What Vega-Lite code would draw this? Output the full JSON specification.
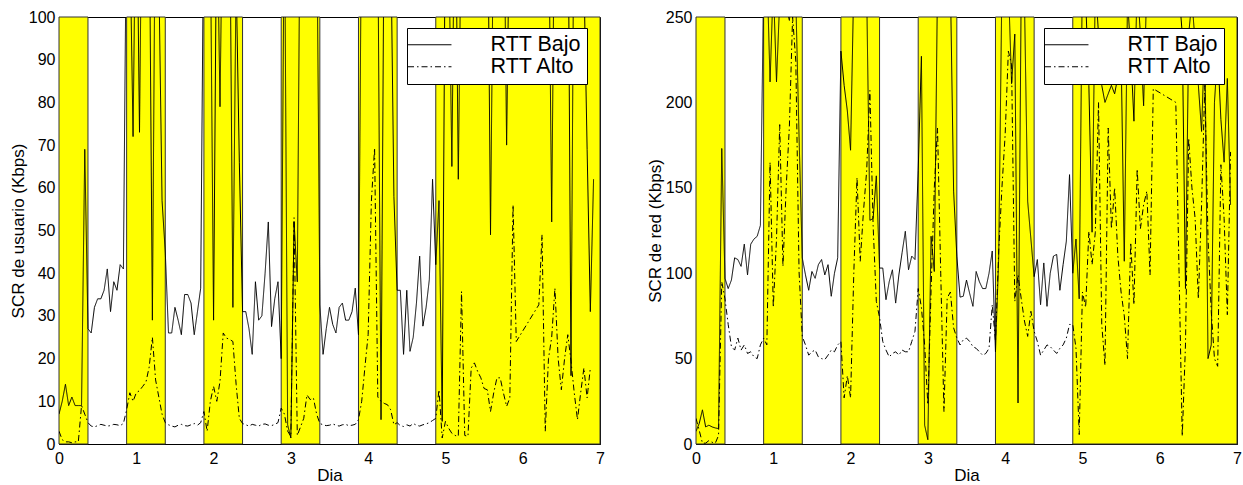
{
 "$schema": "https://vega.github.io/schema/vega-lite/v6.json",
 "padding": {"left": 8, "top": 8, "right": 2, "bottom": 2},
 "autosize": {"type": "pad"},
 "background": "white",
 "spacing": 40,
 "datasets": {
  "bands": [{"s":0,"e":9},{"s":21,"e":33},{"s":45,"e":57},{"s":69,"e":81},{"s":93,"e":105},{"s":117,"e":168}],
  "usuario": [
{"h":0,"b":7,"a":3},{"h":1,"b":10,"a":1},{"h":2,"b":14,"a":0.5},{"h":3,"b":9,"a":0.5},{"h":4,"b":11,"a":0.3},{"h":5,"b":9,"a":0.5},{"h":6,"b":9,"a":0.5},{"h":7,"b":9,"a":9},{"h":8,"b":69,"a":7},{"h":9,"b":27,"a":5},
{"h":10,"b":26,"a":4.2},{"h":11,"b":32,"a":4},{"h":12,"b":34,"a":4.3},{"h":13,"b":34,"a":4.6},{"h":14,"b":36,"a":4.4},{"h":15,"b":41,"a":4.2},{"h":16,"b":31,"a":4.3},{"h":17,"b":38,"a":4.6},{"h":18,"b":36,"a":4.5},{"h":19,"b":42,"a":4.3},
{"h":20,"b":41,"a":4.8},{"h":21,"b":130,"a":8},{"h":22,"b":120,"a":12},{"h":23,"b":72,"a":10},{"h":24,"b":140,"a":12},{"h":25,"b":73,"a":12.5},{"h":26,"b":150,"a":13.5},{"h":27,"b":120,"a":14.5},{"h":28,"b":130,"a":18},{"h":29,"b":29,"a":25},
{"h":30,"b":140,"a":15},{"h":31,"b":110,"a":11},{"h":32,"b":57,"a":7},{"h":33,"b":45,"a":5},{"h":34,"b":26,"a":4.5},{"h":35,"b":26,"a":4.2},{"h":36,"b":32,"a":4},{"h":37,"b":29,"a":4.4},{"h":38,"b":25.6,"a":4.6},{"h":39,"b":35,"a":4.3},
{"h":40,"b":35,"a":4.2},{"h":41,"b":33,"a":4.5},{"h":42,"b":25.6,"a":4.8},{"h":43,"b":31,"a":4.4},{"h":44,"b":36.5,"a":5},{"h":45,"b":130,"a":7.6},{"h":46,"b":140,"a":3},{"h":47,"b":120,"a":10},{"h":48,"b":29,"a":13.5},{"h":49,"b":130,"a":10},
{"h":50,"b":79,"a":14.7},{"h":51,"b":140,"a":26},{"h":52,"b":120,"a":24.8},{"h":53,"b":130,"a":24.5},{"h":54,"b":32,"a":24},{"h":55,"b":110,"a":14},{"h":56,"b":66,"a":6},{"h":57,"b":31,"a":4.8},{"h":58,"b":31,"a":4.5},{"h":59,"b":27,"a":4.2},
{"h":60,"b":21,"a":4.6},{"h":61,"b":38,"a":4.4},{"h":62,"b":29,"a":4.2},{"h":63,"b":30,"a":4.6},{"h":64,"b":40,"a":4.7},{"h":65,"b":52,"a":4.4},{"h":66,"b":27.5,"a":4.3},{"h":67,"b":34,"a":4.6},{"h":68,"b":38,"a":5},{"h":69,"b":20,"a":8.4},
{"h":70,"b":130,"a":7},{"h":71,"b":4.5,"a":3},{"h":72,"b":1.4,"a":1.8},{"h":73,"b":52,"a":53},{"h":74,"b":38,"a":2},{"h":75,"b":140,"a":4},{"h":76,"b":120,"a":6},{"h":77,"b":130,"a":11.5},{"h":78,"b":150,"a":10.4},{"h":79,"b":120,"a":10.8},
{"h":80,"b":130,"a":7},{"h":81,"b":32.6,"a":4.8},{"h":82,"b":21,"a":4.5},{"h":83,"b":27,"a":4.3},{"h":84,"b":32,"a":4.4},{"h":85,"b":28,"a":4.7},{"h":86,"b":26,"a":4.4},{"h":87,"b":32,"a":4.2},{"h":88,"b":33,"a":4.5},{"h":89,"b":29,"a":4.6},
{"h":90,"b":29,"a":4.3},{"h":91,"b":31,"a":4.4},{"h":92,"b":36.5,"a":4.6},{"h":93,"b":25.6,"a":5.7},{"h":94,"b":130,"a":10},{"h":95,"b":140,"a":18},{"h":96,"b":120,"a":25.6},{"h":97,"b":150,"a":56.8},{"h":98,"b":130,"a":69.3},{"h":99,"b":120,"a":11},
{"h":100,"b":5.7,"a":10},{"h":101,"b":130,"a":9.5},{"h":102,"b":140,"a":9.2},{"h":103,"b":120,"a":8},{"h":104,"b":58,"a":4.5},{"h":105,"b":36,"a":5},{"h":106,"b":36,"a":4.3},{"h":107,"b":21,"a":4.1},{"h":108,"b":36,"a":4.5},{"h":109,"b":21.7,"a":4.2},
{"h":110,"b":25,"a":4.8},{"h":111,"b":33,"a":4.4},{"h":112,"b":44,"a":4.2},{"h":113,"b":27.6,"a":4.5},{"h":114,"b":32,"a":4.7},{"h":115,"b":38.5,"a":5},{"h":116,"b":62,"a":5.5},{"h":117,"b":42,"a":6},{"h":118,"b":57,"a":12.7},{"h":119,"b":5.3,"a":1.4},
{"h":120,"b":130,"a":5.3},{"h":121,"b":120,"a":3.7},{"h":122,"b":65,"a":2.5},{"h":123,"b":140,"a":2},{"h":124,"b":62,"a":1.8},{"h":125,"b":130,"a":35.7},{"h":126,"b":150,"a":2},{"h":127,"b":120,"a":1.8},{"h":128,"b":140,"a":17.8},{"h":129,"b":130,"a":19},
{"h":130,"b":110,"a":17},{"h":131,"b":150,"a":15.5},{"h":132,"b":120,"a":13},{"h":133,"b":140,"a":12.7},{"h":134,"b":49,"a":7.6},{"h":135,"b":130,"a":12},{"h":136,"b":150,"a":15.5},{"h":137,"b":120,"a":15.5},{"h":138,"b":140,"a":12},{"h":139,"b":70,"a":8.8},
{"h":140,"b":130,"a":10.8},{"h":141,"b":150,"a":56},{"h":142,"b":140,"a":24},{"h":143,"b":120,"a":null},{"h":144,"b":160,"a":null},{"h":145,"b":130,"a":null},{"h":146,"b":140,"a":null},{"h":147,"b":150,"a":null},{"h":148,"b":120,"a":null},{"h":149,"b":130,"a":32.6},
{"h":150,"b":110,"a":49},{"h":151,"b":140,"a":3},{"h":152,"b":130,"a":20},{"h":153,"b":52,"a":25},{"h":154,"b":140,"a":36.5},{"h":155,"b":150,"a":20},{"h":156,"b":120,"a":12.7},{"h":157,"b":130,"a":20},{"h":158,"b":140,"a":25.6},{"h":159,"b":16,"a":19.4},
{"h":160,"b":140,"a":12},{"h":161,"b":130,"a":5.7},{"h":162,"b":150,"a":12},{"h":163,"b":110,"a":17.8},{"h":164,"b":69,"a":10.8},{"h":165,"b":31,"a":17.8},{"h":166,"b":62,"a":null}
  ],
  "red": [
{"h":0,"b":7.4,"a":15},{"h":1,"b":12,"a":8},{"h":2,"b":20,"a":0.5},{"h":3,"b":10,"a":0.5},{"h":4,"b":11,"a":2},{"h":5,"b":10,"a":1},{"h":6,"b":9.4,"a":0.5},{"h":7,"b":9,"a":5},{"h":8,"b":173,"a":95},{"h":9,"b":97,"a":85},
{"h":10,"b":91,"a":70},{"h":11,"b":96,"a":57},{"h":12,"b":109,"a":55},{"h":13,"b":108,"a":62},{"h":14,"b":104,"a":55},{"h":15,"b":117,"a":58},{"h":16,"b":99,"a":53},{"h":17,"b":117,"a":54},{"h":18,"b":120,"a":51},{"h":19,"b":121.6,"a":50},
{"h":20,"b":128,"a":58},{"h":21,"b":270,"a":62},{"h":22,"b":280,"a":58},{"h":23,"b":212,"a":165},{"h":24,"b":270,"a":80},{"h":25,"b":212,"a":120},{"h":26,"b":260,"a":187},{"h":27,"b":270,"a":104},{"h":28,"b":255,"a":150},{"h":29,"b":248,"a":186},
{"h":30,"b":270,"a":250},{"h":31,"b":260,"a":224},{"h":32,"b":180,"a":101},{"h":33,"b":109,"a":63},{"h":34,"b":99,"a":58},{"h":35,"b":90,"a":52},{"h":36,"b":101,"a":54},{"h":37,"b":97,"a":55},{"h":38,"b":105,"a":51},{"h":39,"b":108,"a":50},
{"h":40,"b":99,"a":49.4},{"h":41,"b":105,"a":52},{"h":42,"b":86.5,"a":55},{"h":43,"b":100,"a":54},{"h":44,"b":109,"a":58},{"h":45,"b":230,"a":60},{"h":46,"b":210,"a":27},{"h":47,"b":195,"a":40},{"h":48,"b":172,"a":27},{"h":49,"b":270,"a":100},
{"h":50,"b":260,"a":156},{"h":51,"b":270,"a":107},{"h":52,"b":255,"a":136},{"h":53,"b":265,"a":160},{"h":54,"b":131,"a":207},{"h":55,"b":132,"a":128},{"h":56,"b":157,"a":83.5},{"h":57,"b":103,"a":74},{"h":58,"b":103,"a":60},{"h":59,"b":84.5,"a":55},
{"h":60,"b":95,"a":51},{"h":61,"b":102,"a":53},{"h":62,"b":82.5,"a":54},{"h":63,"b":99,"a":52},{"h":64,"b":112,"a":55},{"h":65,"b":124.5,"a":54},{"h":66,"b":102,"a":54},{"h":67,"b":110,"a":60},{"h":68,"b":108,"a":66},{"h":69,"b":160,"a":91},
{"h":70,"b":227,"a":80},{"h":71,"b":11,"a":58},{"h":72,"b":2.5,"a":23},{"h":73,"b":121.6,"a":90},{"h":74,"b":101,"a":150},{"h":75,"b":270,"a":185},{"h":76,"b":260,"a":100},{"h":77,"b":275,"a":19},{"h":78,"b":265,"a":85.5},{"h":79,"b":270,"a":89},
{"h":80,"b":148,"a":68},{"h":81,"b":110,"a":62},{"h":82,"b":86,"a":58},{"h":83,"b":86.5,"a":61},{"h":84,"b":96,"a":62},{"h":85,"b":88,"a":60},{"h":86,"b":80.6,"a":57},{"h":87,"b":101,"a":56},{"h":88,"b":95,"a":54},{"h":89,"b":91,"a":52},
{"h":90,"b":91,"a":53},{"h":91,"b":100,"a":56},{"h":92,"b":113,"a":81.6},{"h":93,"b":54,"a":60},{"h":94,"b":109,"a":113},{"h":95,"b":270,"a":150},{"h":96,"b":260,"a":181},{"h":97,"b":270,"a":230},{"h":98,"b":211,"a":222},{"h":99,"b":240,"a":83.5},
{"h":100,"b":24,"a":99},{"h":101,"b":270,"a":85},{"h":102,"b":260,"a":72},{"h":103,"b":142,"a":63},{"h":104,"b":120,"a":77.7},{"h":105,"b":98,"a":66},{"h":106,"b":108,"a":60},{"h":107,"b":81.6,"a":52},{"h":108,"b":106,"a":55},{"h":109,"b":80.6,"a":58},
{"h":110,"b":100,"a":57},{"h":111,"b":110,"a":55},{"h":112,"b":111,"a":53},{"h":113,"b":90,"a":56},{"h":114,"b":105,"a":58},{"h":115,"b":118.7,"a":62},{"h":116,"b":157.7,"a":70},{"h":117,"b":100,"a":70},{"h":118,"b":120,"a":56},{"h":119,"b":85,"a":5.5},
{"h":120,"b":280,"a":89},{"h":121,"b":260,"a":80},{"h":122,"b":210,"a":124.5},{"h":123,"b":124,"a":105},{"h":124,"b":270,"a":124},{"h":125,"b":240,"a":200},{"h":126,"b":210,"a":70},{"h":127,"b":200,"a":46},{"h":128,"b":205,"a":185},{"h":129,"b":210,"a":126},
{"h":130,"b":205,"a":150},{"h":131,"b":215,"a":110},{"h":132,"b":230,"a":89},{"h":133,"b":107,"a":75},{"h":134,"b":260,"a":50},{"h":135,"b":230,"a":118},{"h":136,"b":189,"a":81.6},{"h":137,"b":270,"a":161},{"h":138,"b":240,"a":126},{"h":139,"b":198,"a":140},
{"h":140,"b":270,"a":148},{"h":141,"b":255,"a":99},{"h":142,"b":270,"a":208},{"h":143,"b":260,"a":null},{"h":144,"b":270,"a":null},{"h":145,"b":260,"a":null},{"h":146,"b":275,"a":null},{"h":147,"b":255,"a":null},{"h":148,"b":260,"a":null},{"h":149,"b":270,"a":200},
{"h":150,"b":265,"a":101},{"h":151,"b":240,"a":4.5},{"h":152,"b":91,"a":58},{"h":153,"b":240,"a":179},{"h":154,"b":260,"a":150},{"h":155,"b":235,"a":132},{"h":156,"b":210,"a":85},{"h":157,"b":183,"a":140},{"h":158,"b":240,"a":210},{"h":159,"b":50,"a":120},
{"h":160,"b":58,"a":77.7},{"h":161,"b":200,"a":50},{"h":162,"b":230,"a":45.5},{"h":163,"b":190,"a":163.5},{"h":164,"b":165,"a":132},{"h":165,"b":214,"a":75.7},{"h":166,"b":140,"a":171}
  ]
 },
 "hconcat": [
  {
   "width": 541, "height": 427,
   "layer": [
    {"data": {"name": "bands"},
     "mark": {"type": "rect", "fill": "#ffff00", "stroke": "#333333", "strokeWidth": 1},
     "encoding": {
      "x": {"field": "s", "type": "quantitative", "scale": {"domain": [0, 168], "nice": false, "zero": false},
            "axis": {"values": [0,24,48,72,96,120,144,168], "labelExpr": "datum.value / 24", "title": "Dia", "labelPadding": 11}},
      "x2": {"field": "e"}}},
    {"data": {"name": "usuario"},
     "transform": [{"fold": ["b", "a"], "as": ["k", "v"]}, {"filter": "isValid(datum.v)"}],
     "mark": {"type": "line", "color": "black", "strokeWidth": 1, "clip": true},
     "encoding": {
      "x": {"field": "h", "type": "quantitative"},
      "y": {"field": "v", "type": "quantitative", "scale": {"domain": [0, 100], "nice": false},
            "axis": {"values": [0,10,20,30,40,50,60,70,80,90,100], "title": "SCR de usuario (Kbps)"}},
      "strokeDash": {"field": "k", "type": "nominal", "scale": {"domain": ["b", "a"], "range": [[1, 0], [6, 3, 1.5, 3]]},
            "legend": {"labelExpr": "datum.label == 'b' ? 'RTT Bajo' : 'RTT Alto'"}}}}
   ]
  },
  {
   "width": 541, "height": 427,
   "layer": [
    {"data": {"name": "bands"},
     "mark": {"type": "rect", "fill": "#ffff00", "stroke": "#333333", "strokeWidth": 1},
     "encoding": {
      "x": {"field": "s", "type": "quantitative", "scale": {"domain": [0, 168], "nice": false, "zero": false},
            "axis": {"values": [0,24,48,72,96,120,144,168], "labelExpr": "datum.value / 24", "title": "Dia", "labelPadding": 11}},
      "x2": {"field": "e"}}},
    {"data": {"name": "red"},
     "transform": [{"fold": ["b", "a"], "as": ["k", "v"]}, {"filter": "isValid(datum.v)"}],
     "mark": {"type": "line", "color": "black", "strokeWidth": 1, "clip": true},
     "encoding": {
      "x": {"field": "h", "type": "quantitative"},
      "y": {"field": "v", "type": "quantitative", "scale": {"domain": [0, 250], "nice": false},
            "axis": {"values": [0,50,100,150,200,250], "title": "SCR de red (Kbps)"}},
      "strokeDash": {"field": "k", "type": "nominal", "scale": {"domain": ["b", "a"], "range": [[1, 0], [6, 3, 1.5, 3]]},
            "legend": {"labelExpr": "datum.label == 'b' ? 'RTT Bajo' : 'RTT Alto'"}}}}
   ]
  }
 ],
 "resolve": {"scale": {"strokeDash": "independent"}, "legend": {"strokeDash": "independent"}},
 "config": {
  "view": {"stroke": "black", "strokeWidth": 1},
  "axis": {"grid": false, "domain": false, "labelFont": "Liberation Sans", "labelFontSize": 16, "labelColor": "black",
           "titleFont": "Liberation Sans", "titleFontSize": 17, "titleFontWeight": "normal", "titleColor": "black",
           "tickColor": "black", "tickSize": -5, "labelPadding": 9, "titlePadding": 1, "labelFlush": false, "labelOverlap": false},
  "legend": {"orient": "none", "legendX": 348, "legendY": 11, "title": null, "fillColor": "white", "strokeColor": "black", "padding": 6,
             "labelFont": "Liberation Sans", "labelFontSize": 21.5, "labelColor": "black", "labelOffset": 50, "symbolOffset": 6,
             "symbolType": "M-4,0H4", "symbolSize": 118, "symbolStrokeColor": "black", "symbolStrokeWidth": 1, "rowPadding": -3, "cornerRadius": 0}
 }
}
